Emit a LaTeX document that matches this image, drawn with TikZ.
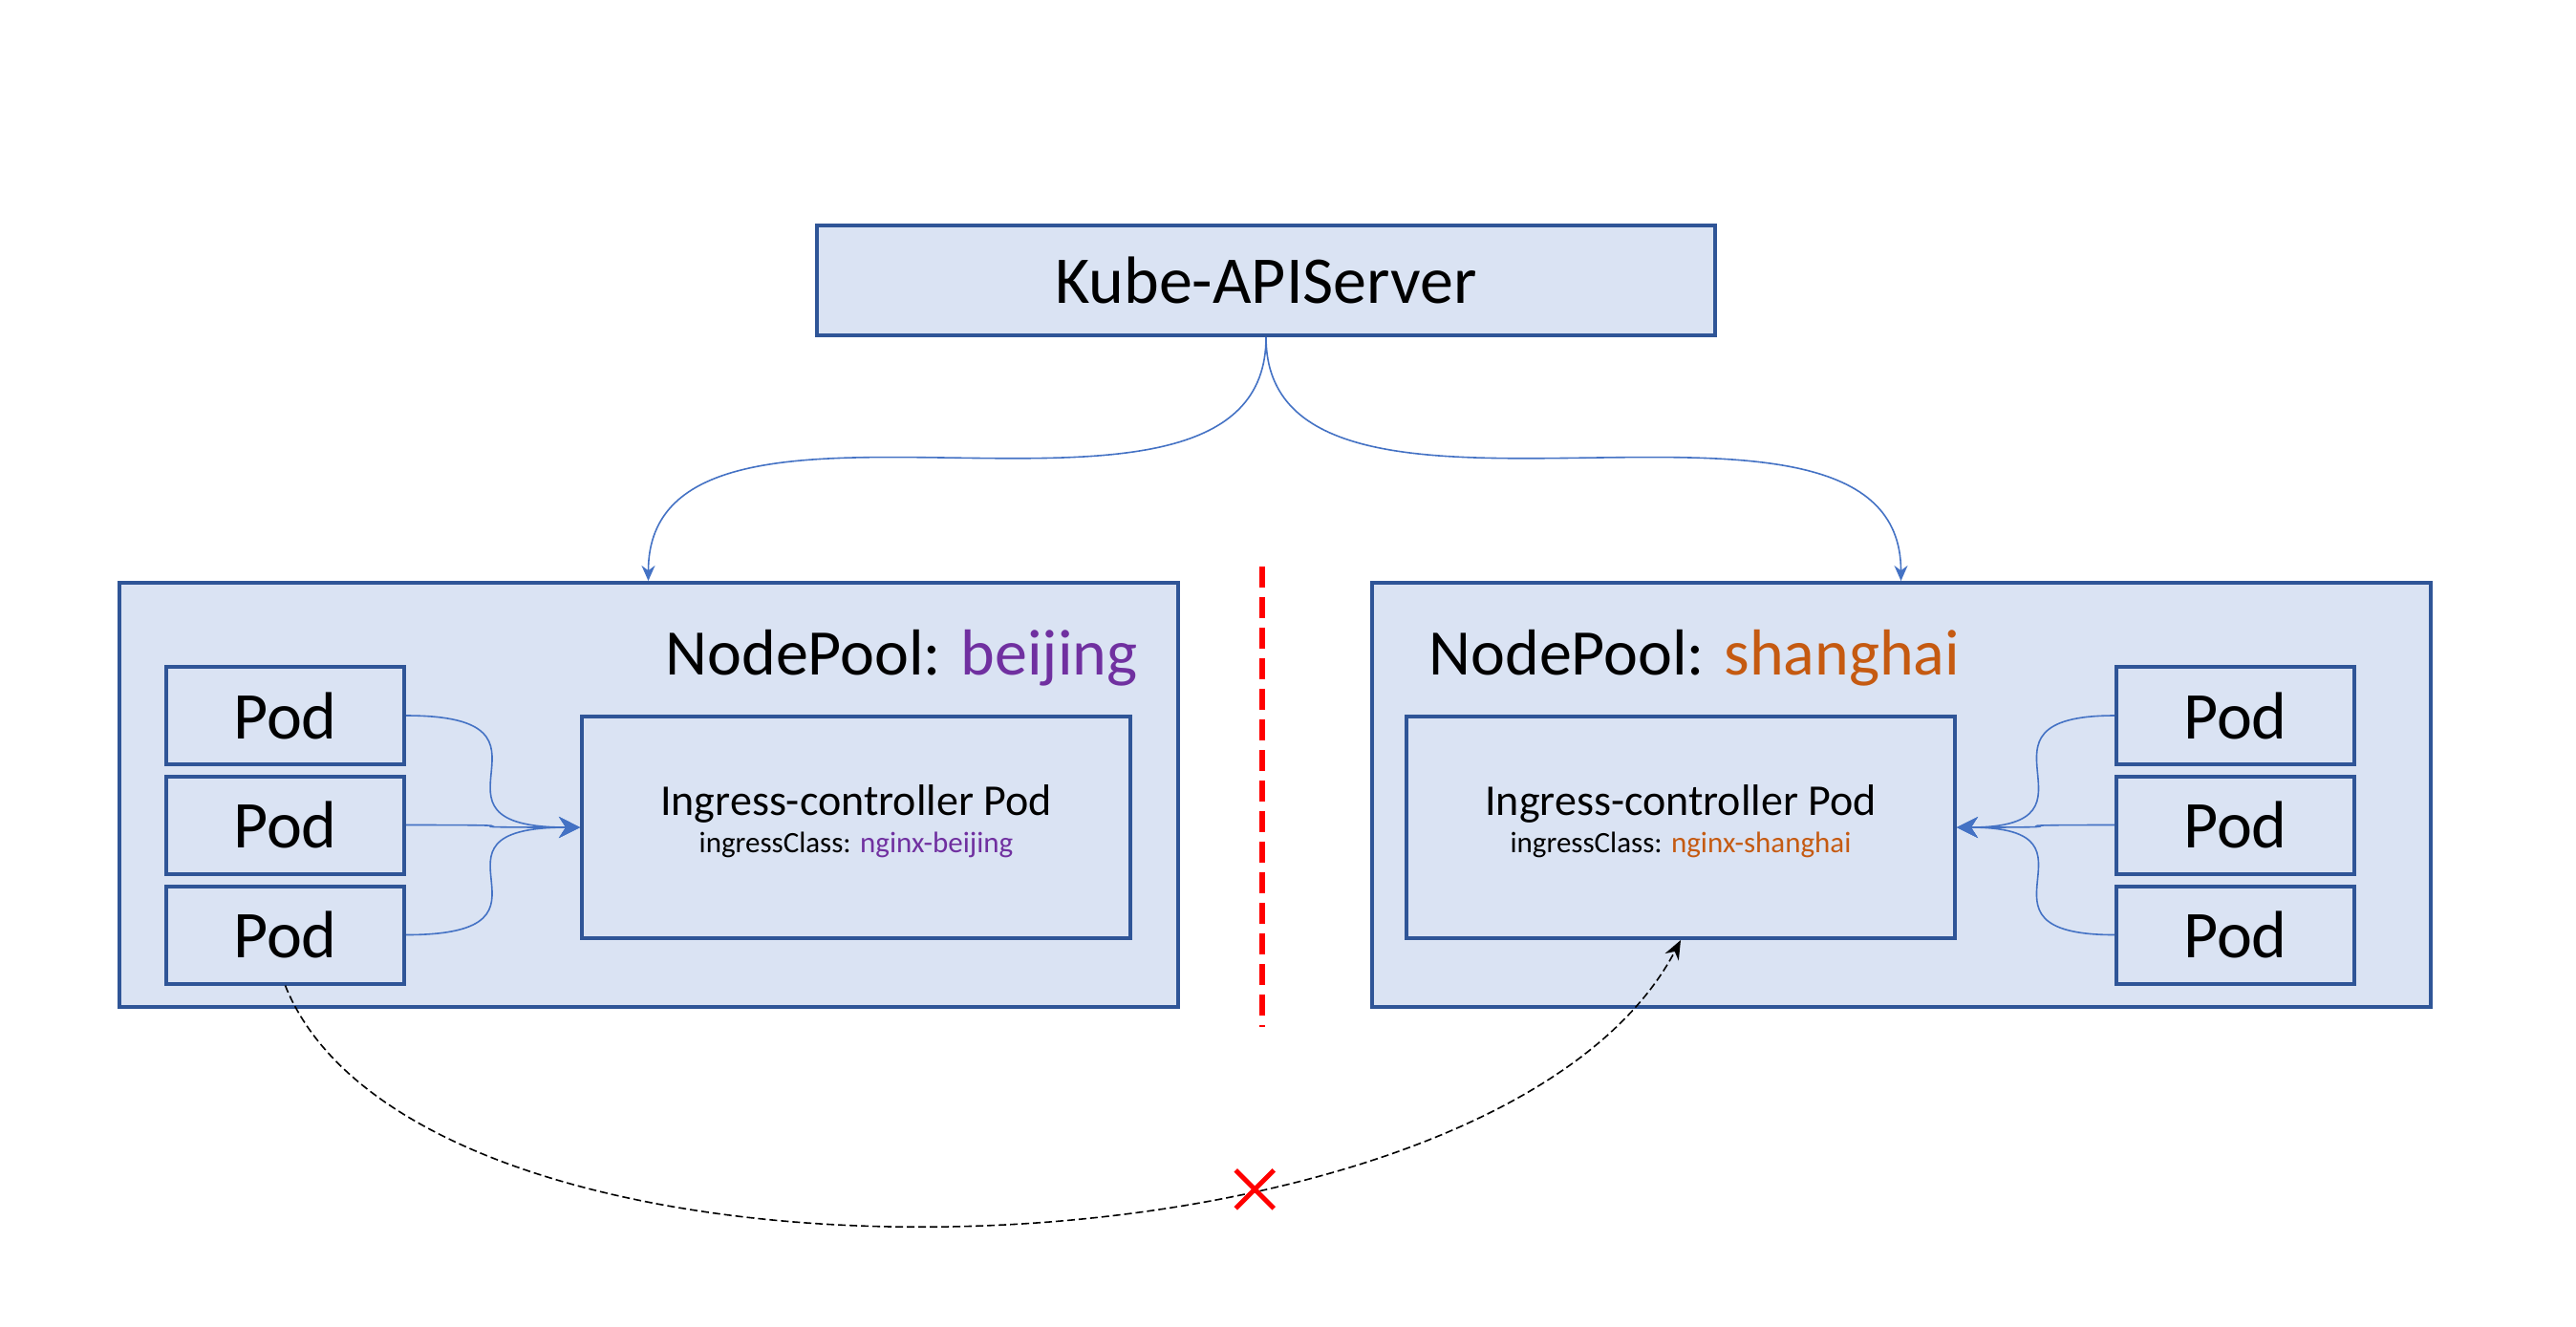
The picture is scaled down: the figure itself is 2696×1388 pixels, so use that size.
\documentclass[tikz,border=0pt]{standalone}
\usepackage{fontspec}
\setmainfont{Carlito}
\usetikzlibrary{positioning, arrows.meta}

\definecolor{poolfill}{HTML}{DAE3F3}
\definecolor{pooldraw}{HTML}{2F5597}
\definecolor{linkblue}{HTML}{4472C4}
\definecolor{bjpurple}{HTML}{7030A0}
\definecolor{shorange}{HTML}{C55A11}

\begin{document}
\begin{tikzpicture}[x=0.5pt, y=-0.5pt,
    box/.style={draw=pooldraw, fill=poolfill, line width=2pt, inner sep=0pt},
    bigtext/.style={font=\fontsize{35}{42}\selectfont},
    pooltext/.style={font=\fontsize{34}{40}\selectfont},
    midtext/.style={font=\fontsize{23}{27}\selectfont},
    smalltext/.style={font=\fontsize{15.5}{18}\selectfont},
    podbox/.style={box, minimum width=124.5pt, minimum height=51pt, bigtext},
    ingbox/.style={box, minimum width=287pt, minimum height=116pt},
    poolbox/.style={box, minimum width=554pt, minimum height=222pt},
    link/.style={draw=linkblue, line width=0.8pt},
    dashlink/.style={draw=black, line width=0.8pt, dash pattern=on 4pt off 2pt},
    sepline/.style={draw=red, line width=2.8pt, dash pattern=on 11pt off 5pt},
    crossmark/.style={draw=red, line width=2.5pt}]
    \useasboundingbox (0,0) rectangle (2696,1388);

    % API server
    \node[box, minimum width=470pt, minimum height=57.5pt, bigtext] (api) at (1325,293.5) {Kube-APIServer};

    % Node pools
    \node[poolbox] (bjpool) at (678.5,832) {};
    \node[poolbox] (shpool) at (1989.5,832) {};
    \node[pooltext, anchor=base east] (bjname) at ([xshift=-18.5pt,yshift=-49pt]bjpool.north east) {NodePool: \textcolor{bjpurple}{beijing}};
    \node[pooltext, anchor=base west] (shname) at ([xshift=27.5pt,yshift=-49pt]shpool.north west) {NodePool: \textcolor{shorange}{shanghai}};

    % Ingress controllers
    \node[ingbox] (bjing) at (896,866) {};
    \node[ingbox] (shing) at (1759,866) {};
    \foreach \ing/\cls/\col in {bjing/nginx-beijing/bjpurple, shing/nginx-shanghai/shorange} {
        \node[midtext] (\ing-title) at ([yshift=12.5pt]\ing.center) {Ingress-controller Pod};
        \node[smalltext] (\ing-class) at ([yshift=-9pt]\ing.center) {ingressClass: \textcolor{\col}{\cls}};
    }

    % Pods
    \foreach \i/\y in {1/749, 2/863.5, 3/978.5} {
        \node[podbox] (bjpod\i) at (298.5,\y) {Pod};
        \node[podbox] (shpod\i) at (2339.5,\y) {Pod};
        \draw[link, -{Stealth[length=11pt, width=11pt]}] (bjpod\i.east) .. controls +(186,0) and +(-186,0) .. (bjing.west);
        \draw[link, -{Stealth[length=11pt, width=11pt]}] (shpod\i.west) .. controls +(-169,0) and +(169,0) .. (shing.east);
    }

    % API server to node pools
    \draw[link, -{Stealth[length=8pt, width=7pt]}] (api.south) .. controls +(0,259) and +(0,-259) .. (bjpool.north);
    \draw[link, -{Stealth[length=8pt, width=7pt]}] (api.south) .. controls +(0,259) and +(0,-259) .. (shpool.north);

    % Separator
    \coordinate (septop) at (1321,593);
    \coordinate (sepbot) at (1321,1075);
    \draw[sepline] (septop) -- (sepbot);

    % Blocked cross-pool request
    \draw[dashlink, -{Stealth[length=10pt, width=8pt]}] (bjpod3.south) .. controls +(144,358) and +(-196,374) .. (shing.south) coordinate[pos=0.66] (cut);
    \draw[crossmark] (cut) +(-20,-20) -- +(20,20)
                           +(-20,20) -- +(20,-20);
\end{tikzpicture}
\end{document}
